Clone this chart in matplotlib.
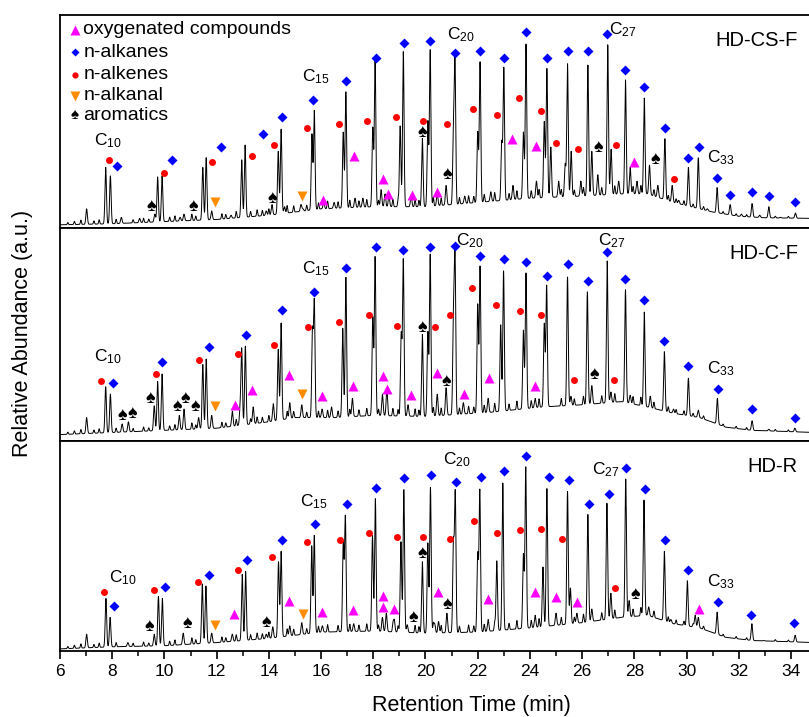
"""
Py-GC/MS chromatograms of three HDPE samples (HD-CS-F, HD-C-F, HD-R),
stacked panels with compound-class markers above the peaks.
"""
import numpy as np
import matplotlib
matplotlib.use('Agg')
import matplotlib.pyplot as plt
from matplotlib.ticker import MultipleLocator

plt.rcParams['font.family'] = ['Liberation Sans', 'DejaVu Sans']
plt.rcParams['mathtext.fontset'] = 'custom'
plt.rcParams['mathtext.rm'] = 'Liberation Sans'
plt.rcParams['mathtext.it'] = 'Liberation Sans:italic'

# ---------------------------------------------------------------- data
# peak apex (retention time, relative height)
top_peak_t = [7.02, 7.75, 7.93, 8.35, 9.05, 9.63, 9.74, 9.91, 10.6, 10.75,
              11.47, 11.6, 11.81, 12.55, 12.96, 13.09, 13.9, 14.12, 14.36, 14.47,
              14.6, 15.23, 15.3, 15.65, 15.74, 16.1, 16.5, 16.85, 16.95, 17.3,
              17.6, 17.98, 18.07, 18.3, 18.45, 18.6, 19.03, 19.15, 19.45, 19.88,
              20.09, 20.18, 20.45, 20.79, 21.07, 21.13, 21.5, 22.0, 22.09, 22.5,
              22.92, 23.0, 23.35, 23.75, 23.85, 24.25, 24.55, 24.65, 24.8, 25.1,
              25.35, 25.44, 25.58, 25.95, 26.22, 26.37, 26.6, 26.98, 27.11, 27.4,
              27.66, 27.84, 28.1, 28.38, 28.58, 28.9, 29.17, 29.45, 29.7, 30.07,
              30.45, 30.8, 31.17, 31.67, 32.1, 32.51, 32.8, 33.15, 33.6, 34.17]
top_peak_h = [.09, .285, .245, .05, .045, .065, .24, .245, .05, .065,
              .285, .33, .08, .06, .32, .39, .08, .11, .36, .465,
              .10, .11, .09, .44, .55, .12, .12, .45, .64, .14,
              .14, .47, .79, .18, .16, .15, .48, .83, .15, .42,
              .50, .835, .16, .20, .44, .77, .15, .45, .78, .17,
              .40, .75, .20, .45, .865, .22, .50, .75, .38, .22,
              .30, .77, .36, .22, .765, .36, .25, .86, .37, .22,
              .695, .285, .22, .61, .295, .20, .42, .20, .13, .285,
              .33, .09, .19, .11, .065, .115, .06, .10, .05, .07]

mid_peak_t = [7.02, 7.75, 7.93, 8.38, 8.62, 9.61, 9.74, 9.91, 10.57, 10.75,
              11.31, 11.47, 11.6, 11.81, 12.6, 12.9, 12.96, 13.1, 13.4, 14.17,
              14.36, 14.47, 14.8, 15.26, 15.67, 15.74, 16.04, 16.4, 16.83, 16.95,
              17.2, 17.98, 18.07, 18.35, 18.52, 19.07, 19.15, 19.33, 19.88, 20.09,
              20.18, 20.45, 20.79, 21.07, 21.13, 21.45, 22.0, 22.09, 22.4, 22.88,
              22.99, 23.75, 23.85, 24.2, 24.55, 24.64, 25.44, 25.57, 26.2, 26.37,
              26.96, 27.1, 27.66, 27.84, 28.38, 28.61, 29.15, 29.5, 30.07, 30.45,
              31.18, 32.51, 33.15, 34.15]
mid_peak_h = [.11, .255, .22, .08, .09, .165, .28, .315, .12, .15,
              .11, .36, .385, .12, .14, .15, .43, .445, .16, .175,
              .43, .555, .18, .17, .51, .65, .15, .16, .53, .77,
              .20, .58, .865, .22, .25, .50, .85, .17, .50, .51,
              .875, .22, .25, .555, .87, .18, .64, .82, .20, .545,
              .80, .52, .79, .20, .55, .73, .77, .21, .70, .26,
              .845, .23, .71, .215, .605, .21, .42, .15, .295, .145,
              .20, .095, .055, .06]

bot_peak_t = [7.02, 7.76, 7.92, 8.6, 9.61, 9.77, 9.92, 10.72, 11.45, 11.59,
              11.81, 12.6, 12.98, 13.11, 13.9, 14.15, 14.37, 14.47, 14.8, 15.26,
              15.64, 15.74, 16.05, 16.85, 16.93, 17.25, 17.97, 18.08, 18.35, 18.5,
              18.8, 19.06, 19.17, 19.3, 19.88, 20.09, 20.19, 20.35, 20.5, 20.82,
              21.07, 21.14, 22.0, 22.08, 22.4, 22.73, 22.96, 23.75, 23.84, 24.2,
              24.5, 24.65, 25.0, 25.44, 25.55, 25.8, 26.22, 26.37, 26.95, 27.1,
              27.67, 27.8, 28.37, 28.55, 29.15, 29.4, 30.03, 30.33, 30.45, 31.17,
              32.5, 32.95, 34.16]
bot_peak_h = [.08, .25, .16, .04, .08, .26, .25, .085, .32, .31,
              .085, .08, .365, .38, .08, .115, .425, .475, .12, .135,
              .50, .55, .12, .515, .64, .13, .55, .725, .16, .18,
              .15, .52, .77, .125, .425, .515, .78, .13, .14, .18,
              .505, .75, .46, .765, .15, .43, .80, .46, .875, .17,
              .40, .775, .18, .76, .30, .18, .65, .20, .705, .275,
              .82, .24, .72, .21, .475, .15, .335, .17, .16, .185,
              .13, .05, .075]

# small unresolved peaks riding on the baseline (height above baseline)
minor_t = [6.3, 6.55, 6.8, 7.3, 7.5, 8.15, 8.8, 9.2, 9.4, 10.2,
           10.4, 11.05, 11.2, 12.2, 12.35, 12.75, 13.3, 13.55, 13.75, 14.0,
           14.7, 14.95, 15.45, 15.9, 16.25, 16.65, 17.1, 17.45, 17.75, 18.2,
           18.75, 18.95, 19.6, 19.75, 20.3, 20.6, 21.3, 21.65, 21.85, 22.25,
           22.65, 23.2, 23.5, 24.05, 24.35, 25.2, 25.7, 26.05, 26.75, 27.25,
           27.95, 28.25, 28.75, 29.3, 29.6, 29.9, 30.25, 30.65, 31.4, 31.9,
           32.3, 33.4, 33.9]
minor_h = [.01, .015, .02, .015, .02, .02, .015, .02, .015, .02,
           .025, .03, .02, .025, .02, .03, .025, .03, .025, .03,
           .035, .03, .025, .03, .035, .03, .035, .03, .035, .03,
           .035, .03, .035, .03, .04, .035, .03, .035, .03, .035,
           .04, .03, .04, .035, .04, .035, .03, .04, .035, .04,
           .035, .04, .03, .025, .02, .02, .015, .015, .01, .01,
           .01, .008, .008]

# baseline (unresolved hump)
top_base_t = [6, 8, 10, 12, 14, 16, 18, 20, 22, 24, 26, 27.5, 28.5, 29.5, 31, 32, 33, 34.9]
top_base_y = [.015, .02, .03, .04, .06, .09, .10, .10, .12, .14, .15, .16, .16, .12, .075, .055, .048, .045]
mid_base_t = [6, 10, 12, 14, 15, 16.5, 18, 20, 22.5, 24.5, 26, 27.5, 28.5, 29.5, 30.5, 31.5, 32.5, 34.9]
mid_base_y = [.03, .05, .06, .09, .11, .11, .12, .115, .135, .16, .17, .185, .16, .13, .11, .065, .05, .04]
bot_base_t = [6, 8, 10, 12, 14, 16, 18, 20, 22, 24, 26, 27.5, 28.5, 29.5, 30.5, 31.5, 32.5, 34.9]
bot_base_y = [.01, .02, .025, .04, .06, .09, .095, .085, .09, .11, .135, .16, .17, .13, .11, .065, .05, .04]

# compound-class annotations (time, height)
top_oxy_t = [16.07, 17.26, 18.37, 18.57, 19.49, 20.45, 23.3, 24.24, 27.99]
top_oxy_y = [.13, .34, .23, .16, .155, .17, .42, .385, .31]
top_alkane_t = [8.18, 10.3, 12.17, 13.77, 14.5, 15.7, 16.96, 18.1, 19.18, 20.18,
                21.13, 22.09, 23.0, 23.85, 24.66, 25.46, 26.23, 26.96, 27.65, 28.38,
                29.18, 30.06, 30.48, 31.17, 31.67, 32.51, 33.16, 34.16]
top_alkane_y = [.29, .32, .38, .44, .52, .60, .69, .80, .87, .88,
                .82, .83, .80, .92, .80, .83, .83, .91, .74, .66,
                .47, .33, .38, .235, .155, .17, .15, .12]
top_alkene_t = [7.88, 9.98, 11.83, 13.35, 14.2, 15.47, 16.7, 17.76, 18.87, 19.9,
                20.83, 21.82, 22.74, 23.6, 24.43, 25.0, 25.85, 27.3, 29.52]
top_alkene_y = [.32, .26, .31, .34, .39, .47, .49, .50, .52, .50,
                .49, .56, .53, .61, .55, .40, .37, .39, .23]
top_alkanal_t = [11.94, 15.27]
top_alkanal_y = [.12, .15]
top_arom_t = [9.49, 11.1, 14.12, 19.87, 20.83, 26.61, 28.8]
top_arom_y = [.10, .10, .14, .45, .25, .38, .32]

mid_oxy_t = [12.7, 13.37, 14.77, 16.04, 17.23, 18.37, 18.53, 19.45, 20.45, 21.48, 22.44, 24.2]
mid_oxy_y = [.17, .24, .31, .21, .26, .305, .245, .215, .32, .22, .295, .26]
mid_alkane_t = [8.03, 9.9, 11.7, 13.12, 14.5, 15.73, 16.96, 18.1, 19.14, 20.17,
                21.13, 22.09, 23.0, 23.85, 24.66, 25.46, 26.23, 26.96, 27.65, 28.38,
                29.14, 30.06, 31.2, 32.51, 34.16]
mid_alkane_y = [.27, .37, .44, .50, .615, .70, .81, .91, .895, .91,
                .915, .87, .855, .84, .775, .83, .75, .885, .76, .66,
                .47, .35, .245, .15, .11]
mid_alkene_t = [7.57, 9.68, 11.33, 12.82, 14.2, 15.5, 16.69, 17.85, 18.91, 20.37,
                20.93, 21.79, 22.7, 23.62, 24.43, 25.69, 27.23]
mid_alkene_y = [.28, .315, .38, .41, .45, .535, .56, .59, .54, .535,
                .59, .72, .64, .61, .59, .285, .285]
mid_alkanal_t = [11.93, 15.27]
mid_alkanal_y = [.165, .22]
mid_arom_t = [8.4, 8.76, 9.45, 10.49, 10.8, 11.2, 19.87, 20.8, 26.46]
mid_arom_y = [.12, .13, .20, .16, .20, .16, .535, .28, .31]

bot_oxy_t = [12.65, 14.78, 16.04, 17.22, 18.37, 18.37, 18.8, 20.49, 22.4, 24.2, 25.0, 25.8, 30.48]
bot_oxy_y = [.175, .24, .185, .195, .26, .21, .20, .28, .25, .28, .255, .235, .20]
bot_alkane_t = [8.07, 10.02, 11.72, 13.15, 14.51, 15.77, 17.0, 18.1, 19.18, 20.22,
                21.17, 22.13, 23.0, 23.85, 24.74, 25.5, 26.27, 27.03, 27.69, 28.41,
                29.18, 30.06, 31.2, 32.47, 34.12]
bot_alkane_y = [.215, .305, .36, .435, .53, .605, .70, .775, .825, .84,
                .805, .83, .855, .93, .83, .815, .70, .75, .87, .77,
                .53, .385, .235, .17, .135]
bot_alkene_t = [7.68, 9.6, 11.28, 12.8, 14.13, 15.47, 16.72, 17.84, 18.91, 19.9,
                20.95, 21.86, 22.74, 23.62, 24.43, 25.23, 27.27]
bot_alkene_y = [.28, .29, .33, .385, .45, .52, .53, .56, .545, .545,
                .535, .62, .56, .575, .58, .535, .30]
bot_alkanal_t = [11.93, 15.3]
bot_alkanal_y = [.125, .175]
bot_arom_t = [9.41, 10.87, 13.92, 19.52, 19.87, 20.83, 28.03]
bot_arom_y = [.115, .13, .135, .16, .465, .22, .27]

# carbon-number labels
carbon_n = [10, 15, 20, 27, 33]
top_c_t = [7.84, 15.8, 21.36, 27.57, 31.32]
top_c_y = [.41, .71, .91, .93, .33]
mid_c_t = [7.84, 15.8, 21.7, 27.15, 31.32]
mid_c_y = [.395, .81, .94, .94, .34]
bot_c_t = [8.41, 15.73, 21.2, 26.9, 31.32]
bot_c_y = [.35, .71, .91, .865, .33]

sample_names = ['HD-CS-F', 'HD-C-F', 'HD-R']
legend_labels = ['oxygenated compounds', 'n-alkanes', 'n-alkenes', 'n-alkanal', 'aromatics']

# ---------------------------------------------------------------- styles
c_oxy, c_alkane, c_alkene, c_alkanal, c_arom = '#FF00FF', '#0000FF', '#FF0000', '#FF8C00', 'black'
SPADE = '\u2660'

panels = [
    dict(pt=top_peak_t, ph=top_peak_h, bt=top_base_t, by=top_base_y,
         oxy=(top_oxy_t, top_oxy_y), alk=(top_alkane_t, top_alkane_y),
         ene=(top_alkene_t, top_alkene_y), al=(top_alkanal_t, top_alkanal_y),
         aro=(top_arom_t, top_arom_y), ct=top_c_t, cy=top_c_y),
    dict(pt=mid_peak_t, ph=mid_peak_h, bt=mid_base_t, by=mid_base_y,
         oxy=(mid_oxy_t, mid_oxy_y), alk=(mid_alkane_t, mid_alkane_y),
         ene=(mid_alkene_t, mid_alkene_y), al=(mid_alkanal_t, mid_alkanal_y),
         aro=(mid_arom_t, mid_arom_y), ct=mid_c_t, cy=mid_c_y),
    dict(pt=bot_peak_t, ph=bot_peak_h, bt=bot_base_t, by=bot_base_y,
         oxy=(bot_oxy_t, bot_oxy_y), alk=(bot_alkane_t, bot_alkane_y),
         ene=(bot_alkene_t, bot_alkene_y), al=(bot_alkanal_t, bot_alkanal_y),
         aro=(bot_arom_t, bot_arom_y), ct=bot_c_t, cy=bot_c_y),
]

t = np.arange(5.9, 35.0, 0.004)


def trace(p):
    base = np.interp(t, p['bt'], p['by'])
    pt, ph = np.asarray(p['pt']), np.asarray(p['ph'])
    amp = np.clip(ph - np.interp(pt, p['bt'], p['by']), 0, None)
    y = base + (amp[:, None] * np.exp(-0.5 * ((t - pt[:, None]) / 0.028) ** 2)).sum(0)
    mt, mh = np.asarray(minor_t), np.asarray(minor_h)
    y += (mh[:, None] * np.exp(-0.5 * ((t - mt[:, None]) / 0.02) ** 2)).sum(0)
    return y


fig = plt.figure(figsize=(8.09, 7.17), dpi=100)
left, width = 60 / 809, 753 / 809
bottoms = [1 - 228 / 717, 1 - 441 / 717, 1 - 651 / 717]
heights = [213 / 717, 213 / 717, 210 / 717]

axes = []
for i, p in enumerate(panels):
    ax = fig.add_axes([left, bottoms[i], width, heights[i]])
    axes.append(ax)
    ax.plot(t, trace(p), color='black', lw=0.7, zorder=2)
    ax.plot(*p['alk'], 'D', color=c_alkane, ms=5, mec='none', zorder=3)
    ax.plot(*p['ene'], 'o', color=c_alkene, ms=5, mec='none', zorder=3)
    ax.plot(*p['oxy'], '^', color=c_oxy, ms=7, mec='none', zorder=3)
    ax.plot(*p['al'], 'v', color=c_alkanal, ms=7, mec='none', zorder=3)
    for at, ay in zip(*p['aro']):
        ax.text(at, ay, SPADE, color=c_arom, fontsize=13, ha='center', va='center', zorder=3)
    for n, ct, cy in zip(carbon_n, p['ct'], p['cy']):
        ax.text(ct, cy, r'C$_{%d}$' % n, fontsize=12.5, ha='center', va='center')
    ax.text(0.98, 0.88, sample_names[i], transform=ax.transAxes, fontsize=14.5,
            ha='right', va='center')
    ax.set_xlim(6, 6 + 753 / 26.107)
    ax.set_ylim(0, 1)
    ax.set_yticks([])
    for s in ax.spines.values():
        s.set_linewidth(1.3)
    if i < 2:
        ax.tick_params(axis='x', bottom=False, labelbottom=False)
    else:
        ax.xaxis.set_major_locator(MultipleLocator(2))
        ax.xaxis.set_minor_locator(MultipleLocator(1))
        ax.tick_params(axis='x', which='major', direction='out', length=6, width=1.2,
                       labelsize=12.5, pad=3)
        ax.tick_params(axis='x', which='minor', direction='out', length=3.5, width=1.1)

# legend (top panel, no frame)
ax = axes[0]
leg_y = [.93, .825, .72, .62, .53]
ax.plot(0.02, leg_y[0], '^', color=c_oxy, ms=6.5, mec='none', transform=ax.transAxes)
ax.plot(0.02, leg_y[1], 'D', color=c_alkane, ms=4.5, mec='none', transform=ax.transAxes)
ax.plot(0.02, leg_y[2], 'o', color=c_alkene, ms=4.5, mec='none', transform=ax.transAxes)
ax.plot(0.02, leg_y[3], 'v', color=c_alkanal, ms=6.5, mec='none', transform=ax.transAxes)
ax.text(0.02, leg_y[4], SPADE, color=c_arom, fontsize=11, ha='center', va='center',
        transform=ax.transAxes)
for ly, lab in zip(leg_y, legend_labels):
    ax.text(0.031, ly, lab, fontsize=14, ha='left', va='center', transform=ax.transAxes)

fig.text(471 / 809, 1 - 706 / 717, 'Retention Time (min)', fontsize=15.5,
         ha='center', va='center')
fig.text(23 / 809, 1 - 333 / 717, 'Relative Abundance (a.u.)', fontsize=15.5,
         ha='center', va='center', rotation=90)

fig.savefig('out.png', dpi=100)
